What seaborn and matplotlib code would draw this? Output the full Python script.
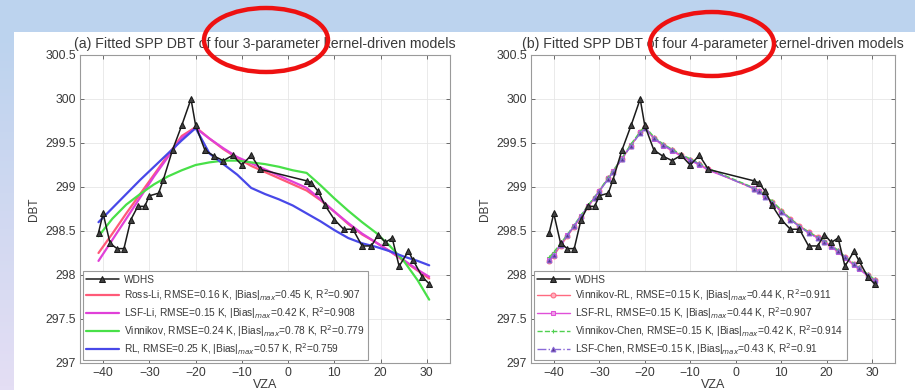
import numpy as np
import pandas as pd
import matplotlib
matplotlib.use("Agg")
import matplotlib.pyplot as plt
import seaborn as sns
from matplotlib.patches import Ellipse, Rectangle
from matplotlib.colors import LinearSegmentedColormap

# ---------------- data ----------------
vza_obs = [-41, -40, -38.5, -37, -35.5, -34, -32.5, -31, -30, -28,
           -27, -25, -23, -21, -20, -18, -16, -14, -12, -10,
           -8, -6, 4, 5, 6.5, 8, 10, 12, 14, 16,
           18, 19.5, 21, 22.5, 24, 26, 27, 29, 30.5]
dbt_obs = [298.48, 298.70, 298.36, 298.30, 298.30, 298.63, 298.78, 298.78, 298.90, 298.93,
           299.08, 299.42, 299.70, 300.00, 299.70, 299.42, 299.35, 299.30, 299.36, 299.25,
           299.36, 299.20, 299.07, 299.05, 298.95, 298.79, 298.63, 298.52, 298.52, 298.33,
           298.33, 298.46, 298.37, 298.42, 298.10, 298.27, 298.17, 297.98, 297.90]

# (a) 3-parameter models
vza_fit = [-41, -38, -35, -32, -29, -26, -23, -20, -17, -14, -11, -8, -5,
           -2, 1, 4, 7, 10, 13, 16, 19, 22, 25, 28, 30.5]
ross_li = [298.25, 298.47, 298.70, 298.92, 299.14, 299.36, 299.58, 299.68, 299.55, 299.43,
           299.33, 299.24, 299.17, 299.10, 299.03, 298.96, 298.85, 298.72, 298.58, 298.46,
           298.37, 298.27, 298.16, 298.05, 297.96]
lsf_li = [298.16, 298.40, 298.64, 298.88, 299.12, 299.34, 299.56, 299.67, 299.55, 299.44,
          299.34, 299.27, 299.20, 299.13, 299.06, 298.99, 298.86, 298.72, 298.59, 298.47,
          298.37, 298.27, 298.17, 298.06, 297.98]
vinnikov = [298.44, 298.64, 298.80, 298.92, 299.03, 299.12, 299.19, 299.25, 299.28, 299.30,
            299.30, 299.28, 299.26, 299.23, 299.19, 299.16, 299.02, 298.87, 298.73, 298.60,
            298.48, 298.33, 298.16, 297.94, 297.72]
rl = [298.60, 298.76, 298.92, 299.08, 299.23, 299.38, 299.53, 299.67, 299.38, 299.26,
      299.14, 298.99, 298.92, 298.86, 298.79, 298.70, 298.61, 298.51, 298.42, 298.36,
      298.32, 298.27, 298.21, 298.16, 298.11]

# (b) 4-parameter models (evaluated at the observation angles)
vin_rl = [298.16, 298.22, 298.33, 298.44, 298.55, 298.66, 298.77, 298.88, 298.95, 299.10,
          299.17, 299.32, 299.47, 299.62, 299.68, 299.56, 299.48, 299.42, 299.36, 299.31,
          299.26, 299.20, 298.98, 298.95, 298.90, 298.83, 298.73, 298.64, 298.56, 298.49,
          298.43, 298.38, 298.33, 298.27, 298.20, 298.12, 298.08, 298.00, 297.94]
lsf_rl = [298.18, 298.24, 298.35, 298.45, 298.56, 298.67, 298.78, 298.88, 298.96, 299.10,
          299.18, 299.33, 299.48, 299.62, 299.67, 299.55, 299.47, 299.41, 299.35, 299.30,
          299.25, 299.19, 298.99, 298.96, 298.90, 298.82, 298.72, 298.63, 298.55, 298.48,
          298.42, 298.37, 298.32, 298.26, 298.19, 298.11, 298.07, 297.99, 297.93]
vin_chen = [298.20, 298.26, 298.36, 298.46, 298.57, 298.68, 298.79, 298.89, 298.96, 299.11,
            299.18, 299.33, 299.49, 299.63, 299.69, 299.57, 299.49, 299.43, 299.37, 299.32,
            299.27, 299.21, 298.99, 298.96, 298.91, 298.84, 298.74, 298.64, 298.56, 298.49,
            298.43, 298.39, 298.34, 298.28, 298.21, 298.13, 298.09, 298.01, 297.95]
lsf_chen = [298.17, 298.23, 298.34, 298.45, 298.56, 298.67, 298.78, 298.88, 298.95, 299.09,
            299.17, 299.32, 299.47, 299.61, 299.67, 299.56, 299.48, 299.42, 299.36, 299.31,
            299.26, 299.20, 298.98, 298.95, 298.89, 298.82, 298.72, 298.63, 298.55, 298.48,
            298.42, 298.38, 298.33, 298.27, 298.20, 298.12, 298.08, 298.00, 297.94]

obs_label = "WDHS"
labels_a = ["Ross-Li, RMSE=0.16 K, |Bias|$_{max}$=0.45 K, R$^2$=0.907",
            "LSF-Li, RMSE=0.15 K, |Bias|$_{max}$=0.42 K, R$^2$=0.908",
            "Vinnikov, RMSE=0.24 K, |Bias|$_{max}$=0.78 K, R$^2$=0.779",
            "RL, RMSE=0.25 K, |Bias|$_{max}$=0.57 K, R$^2$=0.759"]
labels_b = ["Vinnikov-RL, RMSE=0.15 K, |Bias|$_{max}$=0.44 K, R$^2$=0.911",
            "LSF-RL, RMSE=0.15 K, |Bias|$_{max}$=0.44 K, R$^2$=0.907",
            "Vinnikov-Chen, RMSE=0.15 K, |Bias|$_{max}$=0.42 K, R$^2$=0.914",
            "LSF-Chen, RMSE=0.15 K, |Bias|$_{max}$=0.43 K, R$^2$=0.91"]
titles = ["(a) Fitted SPP DBT of four 3-parameter kernel-driven models",
          "(b) Fitted SPP DBT of four 4-parameter kernel-driven models"]
xticks = [-40, -30, -20, -10, 0, 10, 20, 30]
yticks = [297, 297.5, 298, 298.5, 299, 299.5, 300, 300.5]
yticklabels = ["297", "297.5", "298", "298.5", "299", "299.5", "300", "300.5"]

# ---------------- style ----------------
sns.set_style("ticks")
plt.rcParams["font.family"] = ["Liberation Sans", "DejaVu Sans"]
plt.rcParams["mathtext.fontset"] = "dejavusans"
text_c = "#3a3a3a"

W, H = 915, 390
fig = plt.figure(figsize=(W / 100, H / 100), dpi=100)
fig.patch.set_facecolor("#bcd3ee")

# slide background: white content area + lavender strip on the left
bg = fig.add_axes([0, 0, 1, 1], zorder=-5)
bg.axis("off")
bg.add_patch(Rectangle((14, 32), W - 14, H - 32, facecolor="white", edgecolor="none"))
cm = LinearSegmentedColormap.from_list("g", ["#bcd3ee", "#e4def4"])
grad = np.linspace(0, 1, 100).reshape(-1, 1)
bg.imshow(grad, aspect="auto", cmap=cm, extent=(0, 14, H, 32))
bg.set_xlim(0, W)
bg.set_ylim(H, 0)


def style_axes(ax, title):
    ax.set_xlim(-45, 35)
    ax.set_ylim(297, 300.5)
    ax.set_xticks(xticks)
    ax.set_yticks(yticks)
    ax.set_yticklabels(yticklabels)
    ax.grid(True, color="#e6e6e6", lw=0.6)
    ax.set_axisbelow(True)
    ax.tick_params(direction="in", length=3, width=0.6, top=True, right=True,
                   labelsize=8.8, colors="#555555", labelcolor=text_c, pad=3)
    for s in ax.spines.values():
        s.set_color("#9a9a9a")
        s.set_linewidth(0.8)
    ax.set_xlabel("VZA", fontsize=9, color=text_c, labelpad=0)
    ax.set_ylabel("DBT", fontsize=8.5, color=text_c, labelpad=4)
    ax.set_title(title, fontsize=10.2, color=text_c, pad=5)


def add_legend(ax):
    h, l = ax.get_legend_handles_labels()
    order = [4, 0, 1, 2, 3]
    leg = ax.legend([h[i] for i in order], [l[i] for i in order], loc="lower left",
                    fontsize=7.3, frameon=True, fancybox=False, framealpha=1,
                    edgecolor="#9a9a9a", borderaxespad=0.25, handlelength=3.2,
                    labelspacing=0.22, borderpad=0.35, handletextpad=0.5)
    leg.get_frame().set_linewidth(0.8)
    for t in leg.get_texts():
        t.set_color(text_c)


# ---------- panel (a) ----------
ax1 = fig.add_axes([80 / W, 1 - 363 / H, 370 / W, 308 / H])
ax1.set_facecolor("white")
cols_a = ["#ff5a78", "#e040d8", "#48e048", "#4848e8"]
for vals, lab, c in zip([ross_li, lsf_li, vinnikov, rl], labels_a, cols_a):
    sns.lineplot(x=vza_fit, y=vals, ax=ax1, color=c, lw=1.6, label=lab,
                 sort=False, estimator=None, zorder=3)
sns.lineplot(x=vza_obs, y=dbt_obs, ax=ax1, color="#1a1a1a", lw=1.1, marker="^",
             markersize=4.5, markerfacecolor="#404040", markeredgecolor="#1a1a1a",
             label=obs_label, sort=False, estimator=None, zorder=4)
style_axes(ax1, titles[0])
add_legend(ax1)

# ---------- panel (b) ----------
ax2 = fig.add_axes([531 / W, 1 - 363 / H, 364 / W, 308 / H])
ax2.set_facecolor("white")
specs_b = [(vin_rl, "#ff6a80", "o", "-", "#ffb0c0"),
           (lsf_rl, "#e050d8", "s", "-", "#f0a0e8"),
           (vin_chen, "#50d050", "+", "--", "#50d050"),
           (lsf_chen, "#8a6ad8", "^", "-.", "#5a3a8a")]
for (vals, c, m, ls, mfc), lab in zip(specs_b, labels_b):
    sns.lineplot(x=vza_obs, y=vals, ax=ax2, color=c, lw=1.0, linestyle=ls, marker=m,
                 markersize=3.5, markerfacecolor=mfc, markeredgecolor=c, label=lab,
                 sort=False, estimator=None, zorder=3)
sns.lineplot(x=vza_obs, y=dbt_obs, ax=ax2, color="#1a1a1a", lw=1.1, marker="^",
             markersize=4.5, markerfacecolor="#404040", markeredgecolor="#1a1a1a",
             label=obs_label, sort=False, estimator=None, zorder=4)
style_axes(ax2, titles[1])
add_legend(ax2)

# ---------- red annotation ellipses ----------
for cx, cy in [(266, 40), (712, 44)]:
    e = Ellipse((cx / W, 1 - cy / H), 124 / W, 64 / H, transform=fig.transFigure,
                fill=False, edgecolor="#ee1111", lw=3.2, zorder=10)
    fig.patches.append(e)

fig.savefig("out.png", dpi=100, facecolor=fig.get_facecolor())
